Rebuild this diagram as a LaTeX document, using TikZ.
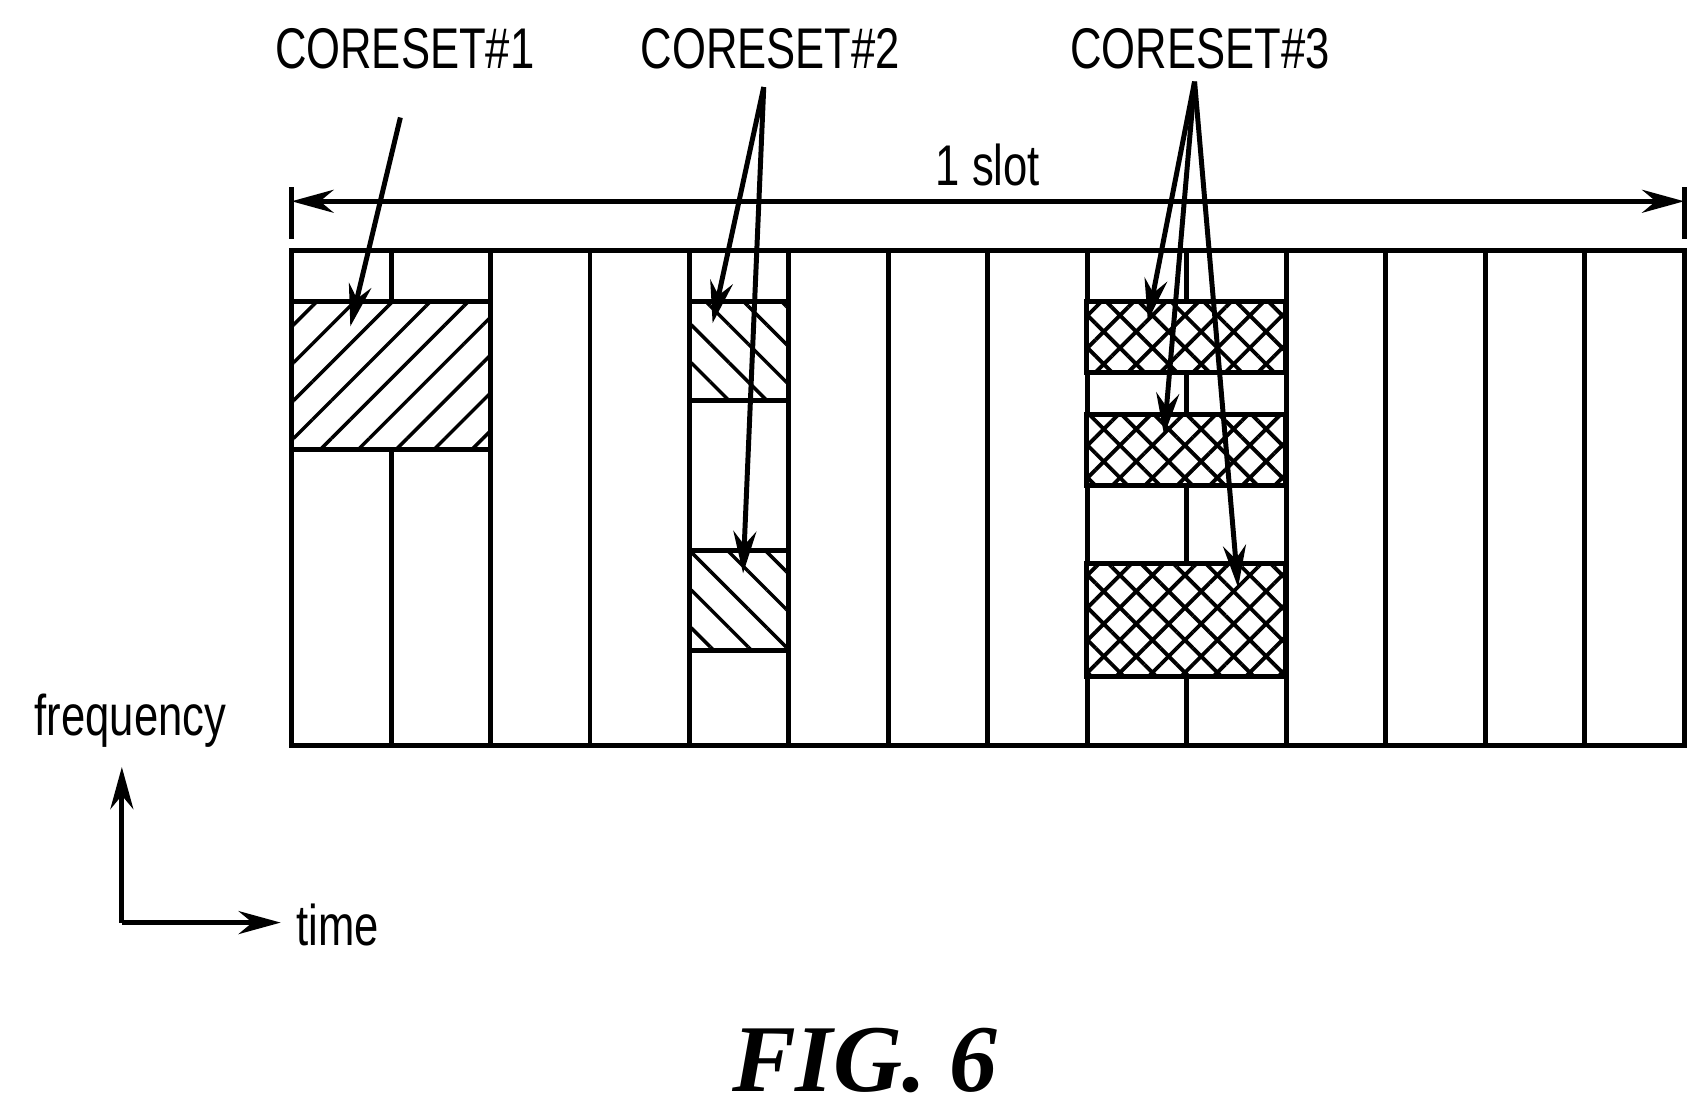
\documentclass[tikz,border=0pt]{standalone}
\usepackage{fontspec}
\setmainfont{Liberation Sans}
\newfontfamily\figfont{Liberation Serif}
\usetikzlibrary{patterns.meta,arrows.meta}
\begin{document}
\begin{tikzpicture}[x=0.01cm,y=-0.01cm,
  ln/.style={line width=1.3pt},
  lbl/.style={font=\fontsize{15}{15}\selectfont, xscale=0.76, inner sep=0pt},
  ptr/.style={line width=1.3pt,-{Stealth[length=11pt,width=6pt]}},
  h1/.style={ln,pattern={Lines[angle=45,distance=7pt,line width=0.9pt]}},
  h2/.style={ln,pattern={Lines[angle=-45,distance=7pt,line width=0.9pt]}},
  h3/.style={ln,pattern={Hatch[angle=45,distance=6pt,line width=1pt]}}]
\useasboundingbox (0,0) rectangle (1569,1021);
% grid
\draw[ln] (268,230) rectangle (1548,685);
\foreach \i in {1,...,13} {\draw[ln] ({268+\i*91.43},230) -- ({268+\i*91.43},685);}
% coresets
\fill[white] (268,277) rectangle (451,413) (999,277) rectangle (1182,342) (999,381) rectangle (1182,446) (999,518) rectangle (1182,622);
\draw[h1] (268,277) rectangle (451,413);
\draw[h2] (634,277) rectangle (725,368);
\draw[h2] (634,506) rectangle (725,598);
\draw[h3] (999,277) rectangle (1182,342);
\draw[h3] (999,381) rectangle (1182,446);
\draw[h3] (999,518) rectangle (1182,622);
\coordinate (c1e) at (322,300);
\coordinate (c2a) at (655,297);
\coordinate (c2b) at (683,527);
\coordinate (c3a) at (1055,295);
\coordinate (c3b) at (1070,400);
\coordinate (c3c) at (1138,540);
% slot
\coordinate (sl) at (268,185);
\coordinate (sr) at (1548,185);
\draw[ln] (268,172) -- (268,220) (1548,172) -- (1548,220);
\draw[line width=1.3pt,{Stealth[length=11pt,width=6pt]}-{Stealth[length=11pt,width=6pt]}] (sl) -- (sr);
\node[lbl] (slot) at (908,152) {1 slot};
% labels
\node[lbl] (t1) at (372,45) {CORESET\#1};
\node[lbl] (t2) at (708,45) {CORESET\#2};
\node[lbl] (t3) at (1103,45) {CORESET\#3};
\draw[ptr] (368,108) -- (c1e);
\draw[ptr] (702,80) -- (c2a);
\draw[ptr] (702,80) -- (c2b);
\draw[ptr] (1098,75) -- (c3a);
\draw[ptr] (1098,75) -- (c3b);
\draw[ptr] (1098,75) -- (c3c);
% axes
\coordinate (o) at (112,848);
\coordinate (fu) at (112,705);
\coordinate (tr) at (258,848);
\draw[ln,-{Stealth[length=11pt,width=6pt]}] (o) -- (fu);
\draw[ln,-{Stealth[length=11pt,width=6pt]}] (o) -- (tr);
\node[lbl] (freq) at (120,662) {frequency};
\node[lbl,anchor=west] (time) at (272,850) {time};
\node[font=\figfont\bfseries\itshape\fontsize{25}{25}\selectfont] (fig) at (795,975) {FIG. 6};
\end{tikzpicture}
\end{document}
